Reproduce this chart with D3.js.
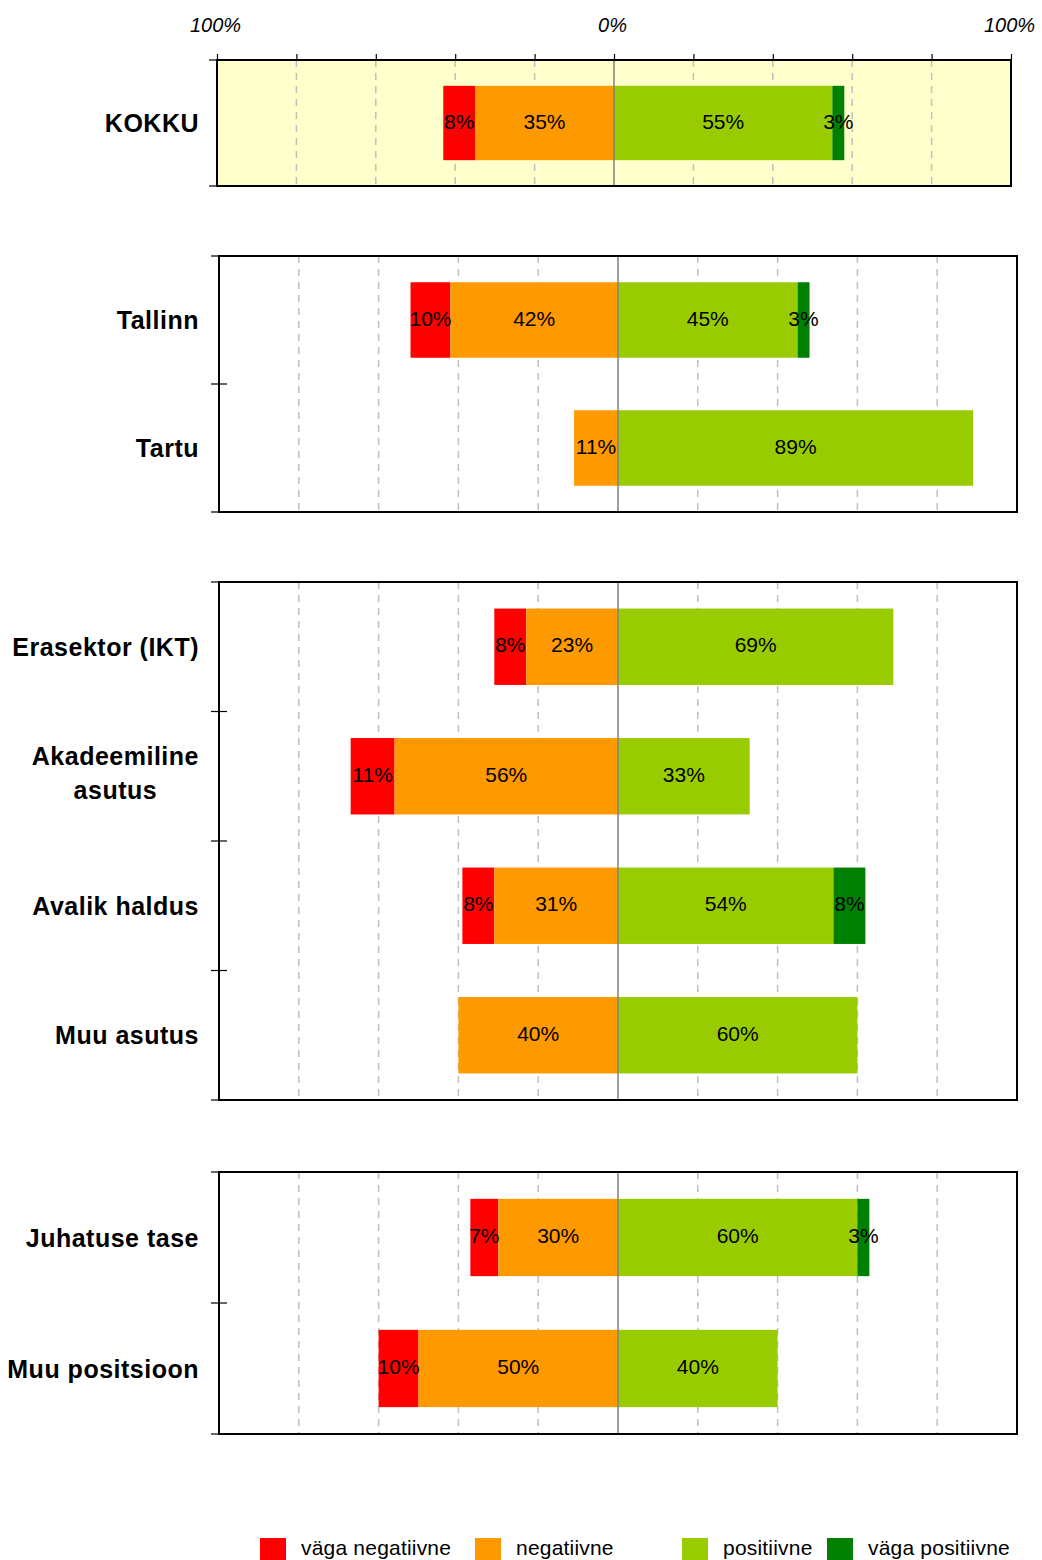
<!DOCTYPE html>
<html>
<head>
<meta charset="utf-8">
<script src="https://cdn.jsdelivr.net/npm/d3@7"></script>
<style>
  html, body { margin: 0; padding: 0; background: #ffffff; }
  svg { display: block; font-family: "Liberation Sans", Arial, sans-serif; }
</style>
</head>
<body>
<svg id="chart" width="1042" height="1560"></svg>
<script>
// ---------- DATA ----------
const categories = ["KOKKU", "Tallinn", "Tartu", "Erasektor (IKT)", "Akadeemiline asutus",
                    "Avalik haldus", "Muu asutus", "Juhatuse tase", "Muu positsioon"];
const groupOf    = [0, 1, 1, 2, 2, 2, 2, 3, 3];
const veryNegative = [8, 10, 0, 8, 11, 8, 0, 7, 10];
const negative     = [35, 42, 11, 23, 56, 31, 40, 30, 50];
const positive     = [55, 45, 89, 69, 33, 54, 60, 60, 40];
const veryPositive = [3, 3, 0, 0, 0, 8, 0, 3, 0];
const seriesNames  = ["väga negatiivne", "negatiivne", "positiivne", "väga positiivne"];
const seriesColors = ["#ff0000", "#ff9900", "#99cc00", "#008000"];
const gridValues   = [-100, -80, -60, -40, -20, 0, 20, 40, 60, 80, 100];
const axisLabels   = [-100, 0, 100];
const labelLines   = { "Akadeemiline asutus": ["Akadeemiline", "asutus"] };

// ---------- LAYOUT ----------
const panels = [
  { left: 217, right: 1011, top: 60,   bottom: 186,  bg: "#ffffcc", axis: true },
  { left: 219, right: 1017, top: 256,  bottom: 512,  bg: "#ffffff" },
  { left: 219, right: 1017, top: 582,  bottom: 1100, bg: "#ffffff" },
  { left: 219, right: 1017, top: 1172, bottom: 1434, bg: "#ffffff" }
];
const legendX = [260, 475, 682, 827];

const svg = d3.select("#chart");

panels.forEach((p, gi) => {
  const cats = categories.filter((c, i) => groupOf[i] === gi);
  const idx = categories.map((c, i) => i).filter(i => groupOf[i] === gi);
  const x = d3.scaleLinear().domain([-100, 100]).range([p.left, p.right]);
  const y = d3.scaleBand().domain(cats).range([p.top, p.bottom]).paddingInner(0.41).paddingOuter(0.205);
  const step = (p.bottom - p.top) / cats.length;
  const g = svg.append("g");

  g.append("rect").attr("x", p.left).attr("y", p.top)
    .attr("width", p.right - p.left).attr("height", p.bottom - p.top)
    .attr("fill", p.bg);

  // gridlines
  g.selectAll(".grid").data(gridValues.filter(v => v !== 0 && Math.abs(v) !== 100)).join("line")
    .attr("x1", d => x(d)).attr("x2", d => x(d))
    .attr("y1", p.top).attr("y2", p.bottom)
    .attr("stroke", "#c0c0c0").attr("stroke-width", 1.5).attr("stroke-dasharray", "7,6");

  // bars
  idx.forEach(i => {
    const cat = categories[i];
    const segs = [
      { s: 0, x0: -(veryNegative[i] + negative[i]), v: veryNegative[i] },
      { s: 1, x0: -negative[i], v: negative[i] },
      { s: 2, x0: 0, v: positive[i] },
      { s: 3, x0: positive[i], v: veryPositive[i] }
    ].filter(d => d.v > 0);
    const bg = g.append("g");
    bg.selectAll("rect").data(segs).join("rect")
      .attr("x", d => x(d.x0)).attr("y", y(cat))
      .attr("width", d => x(d.x0 + d.v) - x(d.x0))
      .attr("height", y.bandwidth())
      .attr("fill", d => seriesColors[d.s]);
    bg.selectAll("text").data(segs).join("text")
      .attr("x", d => (x(d.x0) + x(d.x0 + d.v)) / 2)
      .attr("y", y(cat) + y.bandwidth() / 2 + 5.5)
      .attr("text-anchor", "middle")
      .attr("font-size", 21)
      .attr("fill", "#000")
      .text(d => d.v + "%");
  });

  // zero line
  g.append("line").attr("x1", x(0)).attr("x2", x(0))
    .attr("y1", p.top).attr("y2", p.bottom)
    .attr("stroke", "#808080").attr("stroke-width", 1.5);

  // frame
  g.append("rect").attr("x", p.left).attr("y", p.top)
    .attr("width", p.right - p.left).attr("height", p.bottom - p.top)
    .attr("fill", "none").attr("stroke", "#000").attr("stroke-width", 2);

  // left ticks
  d3.range(cats.length + 1).forEach(k => {
    const yy = p.top + k * step;
    const inner = k > 0 && k < cats.length;
    g.append("line").attr("x1", p.left - 8).attr("x2", inner ? p.left + 8 : p.left)
      .attr("y1", yy).attr("y2", yy).attr("stroke", "#000").attr("stroke-width", 1.2);
  });

  // category labels
  cats.forEach(cat => {
    const cy = y(cat) + y.bandwidth() / 2;
    const lines = labelLines[cat] || [cat];
    const t = g.append("text")
      .attr("font-size", 25).attr("font-weight", "bold")
      .attr("letter-spacing", "0.5px").attr("fill", "#000");
    if (lines.length === 1) {
      t.attr("x", 199).attr("y", cy + 9).attr("text-anchor", "end").text(cat);
    } else {
      t.attr("text-anchor", "middle");
      lines.forEach((ln, li) => {
        t.append("tspan").attr("x", 0).attr("y", cy - 11 + li * 34).text(ln);
      });
      let maxW = 0;
      t.selectAll("tspan").each(function() { maxW = Math.max(maxW, this.getComputedTextLength()); });
      t.selectAll("tspan").attr("x", 199 - maxW / 2);
    }
  });

  // top axis
  if (p.axis) {
    const ax = d3.axisTop(x).tickValues(gridValues).tickSize(6)
      .tickFormat(d => axisLabels.includes(d) ? Math.abs(d) + "%" : "");
    const ag = g.append("g").attr("transform", `translate(0,${p.top})`).call(ax);
    ag.select(".domain").remove();
    ag.selectAll(".tick line").attr("stroke", "#000").attr("stroke-width", 1.2);
    ag.selectAll(".tick text").attr("font-size", 20).attr("font-style", "italic")
      .attr("font-family", "Liberation Sans, Arial, sans-serif")
      .attr("fill", "#000").attr("dy", 0).attr("y", -28);
    ag.selectAll(".tick text").attr("transform", "translate(-2,0)");
  }
});

// legend
const lg = svg.append("g");
seriesNames.forEach((name, i) => {
  lg.append("rect").attr("x", legendX[i]).attr("y", 1538).attr("width", 26).attr("height", 26)
    .attr("fill", seriesColors[i]);
  lg.append("text").attr("x", legendX[i] + 41).attr("y", 1555)
    .attr("font-size", 21).attr("letter-spacing", "0.2px").attr("fill", "#000").text(name);
});
</script>
</body>
</html>
